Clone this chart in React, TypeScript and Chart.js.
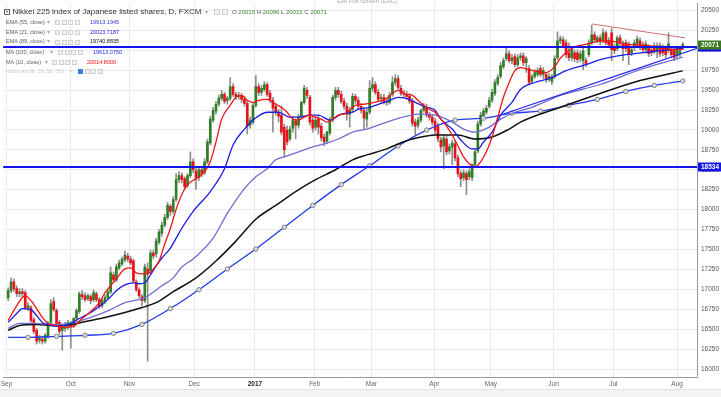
import React, { useEffect, useRef } from 'react';
import { Chart, registerables } from 'chart.js';

Chart.register(...registerables);

const FONT = "'Liberation Sans', Arial, Helvetica, sans-serif";

// Daily candles [open, high, low, close]
const sep2016: number[][] = [
  [16896, 17020, 16858, 16983], [16983, 17144, 16958, 17095], [17095, 17132, 16970, 17008], [17008, 17045, 16908, 16945],
  [16945, 17008, 16908, 16970], [16970, 17008, 16896, 16945], [16958, 16983, 16746, 16771], [16771, 16833, 16734, 16796],
  [16771, 16796, 16585, 16610], [16622, 16647, 16448, 16473], [16485, 16510, 16311, 16348], [16361, 16423, 16323, 16385],
  [16373, 16410, 16311, 16348], [16348, 16448, 16323, 16423], [16410, 16597, 16385, 16572], [16585, 16871, 16560, 16821],
  [16846, 16896, 16722, 16746], [16734, 16759, 16547, 16572], [16585, 16610, 16435, 16473], [16485, 16535, 16236, 16522],
  [16510, 16585, 16473, 16547], [16535, 16610, 16497, 16585],
];
const oct2016: number[][] = [
  [16560, 16597, 16261, 16535], [16547, 16647, 16522, 16634], [16634, 16759, 16610, 16734], [16722, 16970, 16697, 16945],
  [16933, 16983, 16871, 16908], [16921, 16958, 16846, 16871], [16883, 16945, 16858, 16921], [16908, 16933, 16821, 16858],
  [16871, 16995, 16846, 16958], [16945, 16970, 16846, 16871], [16871, 16896, 16759, 16784], [16796, 16883, 16771, 16858],
  [16846, 16933, 16821, 16896], [16896, 16995, 16871, 16970], [16970, 17281, 16945, 17206], [17182, 17219, 17082, 17119],
  [17119, 17318, 17095, 17281], [17269, 17368, 17244, 17331], [17318, 17406, 17294, 17381], [17368, 17480, 17343, 17431],
  [17418, 17455, 17343, 17381],
];
const nov2016: number[][] = [
  [17381, 17418, 17306, 17331], [17356, 17381, 17082, 17107], [17095, 17119, 16970, 16995], [16995, 17020, 16896, 16921],
  [16908, 16933, 16796, 16858], [16858, 17318, 16833, 17281], [17256, 17331, 16100, 17206], [17231, 17493, 17206, 17455],
  [17455, 17493, 17381, 17418], [17443, 17642, 17406, 17605], [17592, 17754, 17568, 17717], [17705, 17841, 17667, 17804],
  [17804, 17940, 17779, 17903], [17903, 18090, 17878, 18053], [18040, 18065, 17928, 17978], [17978, 18165, 17953, 18127],
  [18127, 18451, 18102, 18376], [18376, 18476, 18339, 18426], [18426, 18463, 18339, 18376], [18389, 18413, 18252, 18289],
  [18301, 18451, 18277, 18426], [18426, 18724, 18401, 18600], [18600, 18637, 18463, 18500],
];
const dec2016: number[][] = [
  [18488, 18525, 18252, 18401], [18401, 18538, 18364, 18500], [18500, 18538, 18413, 18451], [18463, 18637, 18438, 18600],
  [18600, 18886, 18575, 18849], [18836, 19172, 18812, 19135], [19123, 19284, 19098, 19247], [19235, 19359, 19197, 19322],
  [19322, 19434, 19297, 19396], [19396, 19496, 19371, 19446], [19446, 19471, 19334, 19359], [19371, 19421, 19322, 19396],
  [19396, 19657, 19371, 19545], [19545, 19583, 19421, 19446], [19446, 19471, 19384, 19421], [19421, 19471, 19384, 19434],
  [19434, 19458, 19346, 19384], [19384, 19421, 19297, 19334], [19334, 19359, 18948, 19048], [19060, 19160, 19023, 19123],
  [19098, 19346, 19073, 19309],
];
const jan2017: number[][] = [
  [19309, 19682, 19284, 19545], [19545, 19583, 19434, 19471], [19471, 19558, 19434, 19521], [19508, 19608, 19483, 19570],
  [19570, 19595, 19421, 19446], [19458, 19496, 19346, 19384], [19371, 19409, 18973, 19272], [19297, 19334, 19185, 19222],
  [19222, 19260, 19098, 19172], [19185, 19297, 18936, 18973], [19035, 19073, 18662, 18749], [18998, 19048, 18812, 18849],
  [18886, 19048, 18861, 19011], [19023, 19172, 18973, 19123], [19110, 19135, 18886, 19060], [19060, 19197, 19023, 19160],
  [19172, 19359, 19147, 19346], [19346, 19558, 19322, 19521], [19496, 19533, 19396, 19434], [19409, 19434, 19060, 19098],
  [19123, 19172, 18973, 19023],
];
const feb2017: number[][] = [
  [19035, 19160, 18998, 19123], [19135, 19185, 18948, 19035], [19048, 19085, 18861, 18899], [18911, 18948, 18799, 18849],
  [18861, 18986, 18824, 18973], [18961, 19160, 18936, 19123], [19123, 19434, 19098, 19409], [19409, 19533, 19371, 19496],
  [19496, 19533, 19409, 19446], [19446, 19483, 19334, 19359], [19359, 19396, 19260, 19297], [19297, 19334, 19123, 19197],
  [19197, 19284, 19035, 19247], [19260, 19458, 19222, 19421], [19421, 19446, 19334, 19371], [19371, 19409, 19260, 19297],
  [19297, 19334, 19210, 19247], [19247, 19284, 19011, 19147], [19135, 19260, 19035, 19222], [19222, 19620, 19197, 19521],
];
const mar2017: number[][] = [
  [19521, 19657, 19483, 19570], [19570, 19608, 19446, 19471], [19471, 19508, 19359, 19384], [19396, 19446, 19346, 19409],
  [19409, 19446, 19322, 19346], [19346, 19396, 19309, 19359], [19346, 19471, 19322, 19434], [19446, 19670, 19421, 19595],
  [19595, 19695, 19558, 19645], [19645, 19682, 19508, 19533], [19521, 19558, 19434, 19458], [19458, 19496, 19409, 19446],
  [19446, 19483, 19384, 19421], [19421, 19458, 19334, 19359], [19359, 19396, 19048, 19085], [19098, 19135, 18936, 19048],
  [19060, 19160, 19023, 19123], [19123, 19260, 19098, 19247], [19247, 19334, 19222, 19297], [19284, 19321, 19160, 19185],
  [19185, 19222, 19123, 19160], [19160, 19197, 19060, 19098],
];
const apr2017: number[][] = [
  [19110, 19147, 18948, 18998], [19048, 19085, 18849, 18886], [18874, 18911, 18724, 18787], [18799, 18936, 18513, 18899],
  [18886, 18923, 18687, 18724], [18737, 18824, 18700, 18787], [18787, 18874, 18563, 18836], [18824, 18861, 18612, 18650],
  [18650, 18687, 18413, 18451], [18451, 18488, 18289, 18389], [18401, 18500, 18364, 18463], [18451, 18488, 18189, 18376],
  [18413, 18513, 18376, 18476], [18401, 18575, 18364, 18563], [18563, 18762, 18538, 18724], [18737, 19110, 18712, 19073],
  [19073, 19222, 19048, 19185], [19172, 19272, 19147, 19235], [19222, 19309, 19197, 19272], [19297, 19409, 19272, 19371],
];
const may2017: number[][] = [
  [19371, 19508, 19346, 19471], [19458, 19633, 19434, 19595], [19583, 19695, 19558, 19657], [19670, 19844, 19645, 19807],
  [19794, 19906, 19769, 19869], [19894, 20031, 19869, 19956], [19956, 19993, 19844, 19869], [19869, 19944, 19832, 19906],
  [19919, 19956, 19794, 19819], [19819, 19944, 19794, 19906], [19906, 19968, 19869, 19931], [19931, 19968, 19807, 19844],
  [19844, 19919, 19720, 19894], [19769, 19807, 19570, 19595], [19608, 19695, 19583, 19670], [19670, 19757, 19645, 19720],
  [19695, 19782, 19670, 19744], [19769, 19807, 19670, 19695], [19695, 19782, 19645, 19744], [19695, 19720, 19595, 19633],
  [19633, 19707, 19608, 19670], [19608, 19695, 19570, 19670],
];
const jun2017: number[][] = [
  [19670, 19931, 19645, 19894], [19906, 20230, 19881, 20118], [20118, 20180, 20080, 20143], [20130, 20167, 20031, 20056],
  [20093, 20130, 19906, 19944], [19968, 20093, 19869, 19906], [19906, 20043, 19869, 20006], [19968, 20006, 19856, 19894],
  [19968, 20006, 19844, 19881], [19894, 19993, 19856, 19956], [19869, 20031, 19757, 19993], [19869, 19906, 19794, 19819],
  [19944, 20130, 19919, 20093], [20093, 20317, 20068, 20192], [20192, 20230, 20093, 20130], [20118, 20180, 20093, 20155],
  [20155, 20192, 20068, 20105], [20118, 20267, 20093, 20217], [20217, 20242, 20068, 20093], [20118, 20155, 20031, 20068],
  [20217, 20279, 19869, 20006],
];
const jul2017: number[][] = [
  [20043, 20080, 19956, 19993], [20018, 20180, 19993, 20155], [20155, 20192, 20056, 20093], [20080, 20118, 19869, 20018],
  [20093, 20130, 19981, 20018], [20068, 20105, 19819, 19944], [19968, 20043, 19931, 20006], [20031, 20130, 19993, 20093],
  [20080, 20180, 20056, 20143], [20118, 20155, 20006, 20043], [20068, 20105, 19968, 20006], [20006, 20118, 19981, 20080],
  [20031, 20068, 19919, 19956], [20006, 20043, 19931, 19968], [20056, 20093, 19956, 19993], [19993, 20093, 19906, 20056],
  [20056, 20093, 19919, 19956], [20031, 20068, 19931, 19968], [20018, 20056, 19906, 19944], [19993, 20217, 19968, 20080],
  [20006, 20043, 19906, 19944], [19993, 20031, 19869, 19906],
];
const aug2017: number[][] = [
  [19931, 20043, 19894, 20006], [19956, 20031, 19919, 19993], [20015, 20096, 20015, 20071],
];

const ohlc = [
  ...sep2016, ...oct2016, ...nov2016, ...dec2016, ...jan2017, ...feb2017,
  ...mar2017, ...apr2017, ...may2017, ...jun2017, ...jul2017, ...aug2017,
];

// Indicator lines: [bar index, value]
const ma10Pts: number[][] = [
  [0, 16610], [3, 16796], [6, 16921], [8, 16858], [10, 16759], [12, 16647], [14, 16572], [17, 16547], [20, 16522],
  [23, 16535], [26, 16634], [29, 16721], [32, 16833], [34, 16958], [36, 17045], [38, 17132], [41, 17256], [43, 17269],
  [45, 17206], [47, 17194], [49, 17194], [51, 17256], [53, 17356], [55, 17568], [57, 17766], [59, 18003], [61, 18189],
  [63, 18314], [66, 18389], [69, 18476], [71, 18600], [73, 18849], [75, 19135], [78, 19309], [80, 19409], [82, 19434],
  [84, 19371], [86, 19346], [88, 19371], [91, 19384], [94, 19322], [96, 19284], [98, 19222], [100, 19135], [102, 19123],
  [104, 19160], [106, 19185], [108, 19160], [110, 19135], [112, 19098], [114, 19135], [116, 19185], [118, 19197],
  [120, 19247], [122, 19309], [125, 19322], [127, 19334], [130, 19359], [133, 19396], [135, 19458], [137, 19496],
  [140, 19446], [142, 19434], [144, 19371], [146, 19309], [148, 19260], [150, 19222], [152, 19135], [154, 19048],
  [156, 18936], [158, 18799], [160, 18662], [162, 18575], [164, 18538], [166, 18600], [168, 18725], [170, 18911],
  [172, 19160], [174, 19409], [176, 19595], [178, 19745], [180, 19782], [183, 19757], [186, 19732], [189, 19720],
  [192, 19794], [194, 19900], [196, 19968], [199, 20043], [202, 20068], [205, 20093], [208, 20118], [211, 20118],
  [215, 20093], [220, 20068], [225, 20056], [230, 20025], [234, 20006], [237, 20014.8],
];
const ema21Pts: number[][] = [
  [0, 16585], [3, 16697], [5, 16759], [8, 16746], [10, 16672], [12, 16585], [15, 16547], [17, 16535], [20, 16547],
  [22, 16572], [25, 16634], [29, 16709], [31, 16759], [35, 16871], [38, 16983], [41, 17057], [44, 17082], [46, 17070],
  [48, 17082], [50, 17182], [52, 17294], [54, 17393], [57, 17518], [59, 17642], [61, 17766], [65, 17978], [71, 18227],
  [76, 18513], [79, 18812], [83, 19011], [86, 19123], [91, 19222], [95, 19222], [99, 19160], [102, 19160], [106, 19185],
  [109, 19185], [113, 19123], [117, 19197], [121, 19222], [123, 19260], [127, 19284], [130, 19322], [134, 19371],
  [137, 19409], [141, 19384], [143, 19346], [147, 19284], [150, 19247], [152, 19135], [156, 19011], [159, 18874],
  [163, 18762], [165, 18762], [167, 18849], [170, 18973], [173, 19185], [177, 19346], [180, 19508], [185, 19595],
  [191, 19657], [196, 19744], [203, 19819], [208, 19881], [217, 19944], [226, 19981], [237, 20023.7],
];
const ema55Pts: number[][] = [
  [0, 16510], [4, 16572], [9, 16572], [16, 16560], [22, 16572], [29, 16647], [36, 16746], [41, 16833], [48, 16896],
  [54, 17045], [58, 17144], [61, 17281], [65, 17381], [72, 17642], [77, 17953], [83, 18264], [87, 18413], [91, 18513],
  [94, 18625], [97, 18662], [102, 18724], [107, 18787], [111, 18824], [116, 18886], [121, 18973], [126, 19011],
  [133, 19098], [140, 19172], [144, 19197], [150, 19185], [156, 19098], [160, 19011], [164, 18973], [169, 19035],
  [173, 19135], [178, 19222], [184, 19284], [194, 19434], [208, 19570], [222, 19757], [237, 19913.2],
];
const ema89Pts: number[][] = [
  [0, 16485], [4, 16547], [10, 16560], [16, 16547], [22, 16560], [29, 16610], [34, 16647], [41, 16709], [47, 16771],
  [52, 16833], [58, 16970], [66, 17144], [73, 17356], [80, 17605], [87, 17880], [94, 18053], [101, 18227], [108, 18376],
  [115, 18500], [121, 18625], [126, 18687], [133, 18762], [137, 18824], [142, 18886], [147, 18923], [150, 18936],
  [158, 18936], [164, 18886], [170, 18911], [176, 19011], [180, 19098], [194, 19284], [210, 19483], [222, 19620],
  [237, 19740.9],
];
const ma100Pts: number[][] = [
  [0, 16398], [7, 16398], [17, 16410], [27, 16423], [37, 16448], [47, 16560], [57, 16759], [67, 16995], [77, 17256],
  [87, 17505], [97, 17779], [107, 18053], [117, 18314], [127, 18550], [137, 18799], [147, 18998], [157, 19123],
  [167, 19147], [177, 19210], [187, 19235], [197, 19309], [207, 19384], [217, 19483], [227, 19558], [237, 19613.1],
];

// Drawn levels and trend lines
const levelLines = [20040, 18534];
const blueTrend: number[][] = [[174, 19200], [243, 20035]];
const redTrend: number[][] = [[205.2, 20329], [237.8, 20155]];

// Axes
const monthTickIdx = [-0.6, 22, 42.6, 65.4, 86.7, 107.7, 127.6, 149.7, 169.6, 191.6, 212.6, 235];
const monthLabels = ['Sep', 'Oct', 'Nov', 'Dec', '2017', 'Feb', 'Mar', 'Apr', 'May', 'Jun', 'Jul', 'Aug'];
const yTickValues = [16000, 16250, 16500, 16750, 17000, 17250, 17500, 17750, 18000, 18250, 18500, 18750,
  19000, 19250, 19500, 19750, 20000, 20250, 20500];

// Legend texts
const titleText = 'Nikkei 225 index of Japanese listed shares, D, FXCM';
const ohlcLabels = ['O', 'H', 'L', 'C'];
const ohlcValues = ['20015', '20096', '20015', '20071'];
const legendNames = ['EMA (55, close)', 'EMA (21, close)', 'EMA (89, close)', 'MA (100, close)', 'MA (10, close)', 'Ichimoku (9, 26, 52, 26)'];
const legendValues = ['19913.1945', '20023.7187', '19740.8835', '19613.0750', '20014.8000', ''];

const priceTags = [
  { value: 20040, bg: '#1414e6', text: '' },
  { value: 20060, bg: '#3a7a20', text: '20071' },
  { value: 18534, bg: '#1414e6', text: '18534' },
];

const toXY = (pts: number[][]) => pts.map((p) => ({ x: p[0], y: p[1] }));

const priceTagPlugin = {
  id: 'priceTags',
  afterDraw(chart: any) {
    const ys = chart.scales.y;
    const ctx = chart.ctx;
    const left = chart.chartArea.right + 1;
    ctx.save();
    priceTags.forEach((t) => {
      const py = Math.round(ys.getPixelForValue(t.value));
      ctx.fillStyle = t.bg;
      ctx.fillRect(left, py - 4.5, 24, 9);
      if (t.text) {
        ctx.fillStyle = '#ffffff';
        ctx.font = `bold 6.5px ${FONT}`;
        ctx.textBaseline = 'middle';
        ctx.textAlign = 'left';
        ctx.fillText(t.text, left + 3, py + 0.5);
      }
    });
    ctx.restore();
  },
};

const lineDs = (pts: number[][], color: string, width: number, extra: any = {}) => ({
  type: 'line',
  data: toXY(pts),
  borderColor: color,
  borderWidth: width,
  pointRadius: 0,
  pointHoverRadius: 0,
  cubicInterpolationMode: 'monotone',
  fill: false,
  order: 2,
  ...extra,
});

const Box = ({ left, top, size = 5, bg = '#f3f3f3', border = '#cfcfcf' }: any) => (
  <div style={{ position: 'absolute', left, top, width: size, height: size, boxSizing: 'border-box', border: `1px solid ${border}`, background: bg }} />
);

function Legend() {
  const rowY = [22.7, 32.3, 42, 52.7, 62.3, 71.7];
  const arrowX = [47, 47, 47, 50, 45, 70];
  const iconX = [55, 55, 55, 58, 52, 78];
  const valueX = [90, 90, 90, 93, 87, 0];
  const valueColor = ['#3535cc', '#1e1ee8', '#111111', '#2727e6', '#ee1010', ''];
  const fs = 5.5;
  return (
    <div style={{ position: 'absolute', left: 0, top: 0, width: 400, height: 80, pointerEvents: 'none', fontFamily: FONT }}>
      <div style={{ position: 'absolute', left: 4, top: 8.5, width: 6, height: 6, boxSizing: 'border-box', border: '1px solid #666' }}>
        <div style={{ position: 'absolute', left: 1, top: 1.5, width: 2, height: 1, background: '#666' }} />
      </div>
      <div style={{ position: 'absolute', left: 12.5, top: 8, fontSize: 8, lineHeight: '8px', color: '#333', whiteSpace: 'nowrap' }}>{titleText}</div>
      <div style={{ position: 'absolute', left: 205, top: 9, fontSize: 6, lineHeight: '6px', color: '#aaa' }}>▾</div>
      <Box left={214} top={9} size={6} />
      <Box left={222} top={9} size={6} />
      <div style={{ position: 'absolute', left: 232, top: 9, fontSize: 6, lineHeight: '6px', whiteSpace: 'nowrap' }}>
        {ohlcLabels.map((l, i) => (
          <span key={l}>
            <span style={{ color: '#555' }}>{l}</span>
            <span style={{ color: '#3a8a2a' }}> {ohlcValues[i]} </span>
          </span>
        ))}
      </div>
      {legendNames.map((name, i) => {
        const faded = i === 5;
        const top = rowY[i] - fs / 2;
        return (
          <div key={name}>
            <div style={{ position: 'absolute', left: 6, top, fontSize: fs, lineHeight: `${fs}px`, color: faded ? '#cdcdcd' : '#606060', whiteSpace: 'nowrap' }}>{name}</div>
            <div style={{ position: 'absolute', left: arrowX[i], top, fontSize: fs, lineHeight: `${fs}px`, color: faded ? '#d5d5d5' : '#aaa' }}>▾</div>
            {[0, 1, 2, 3].map((k) => (
              <Box key={k} left={iconX[i] + k * 6.5} top={rowY[i] - 2.5} size={5}
                bg={faded && k === 0 ? '#3b7de0' : '#f3f3f3'} border={faded && k === 0 ? '#3b7de0' : '#d0d0d0'} />
            ))}
            {legendValues[i] ? (
              <div style={{ position: 'absolute', left: valueX[i], top, fontSize: fs, lineHeight: `${fs}px`, color: valueColor[i], whiteSpace: 'nowrap' }}>{legendValues[i]}</div>
            ) : null}
          </div>
        );
      })}
    </div>
  );
}

export default function App() {
  const canvasRef = useRef<HTMLCanvasElement | null>(null);

  useEffect(() => {
    document.body.style.margin = '0';
    const canvas = canvasRef.current;
    if (!canvas) return;
    const bodyColors = ohlc.map((r) => (r[3] >= r[0] ? '#2f7f24' : '#ec1118'));

    const datasets: any[] = [
      ...levelLines.map((v) => ({
        type: 'line',
        data: [{ x: -3, y: v }, { x: 245, y: v }],
        borderColor: '#1414e6',
        borderWidth: 2,
        pointRadius: 0,
        fill: false,
        order: 0,
      })),
      lineDs(blueTrend, '#2a2aee', 1.2, { order: 1 }),
      lineDs(redTrend, 'rgba(190,90,90,0.85)', 1, { order: 1 }),
      lineDs(ma10Pts, '#f01515', 1.3),
      lineDs(ema21Pts, '#1c1ce8', 1.3),
      lineDs(ema55Pts, '#6d6dd4', 1.3),
      lineDs(ema89Pts, '#111111', 1.5),
      lineDs(ma100Pts, '#2438f0', 1.3, {
        pointRadius: (c: any) => (c.raw && (c.raw.x - 7) % 10 === 0 ? 2.2 : 0),
        pointBackgroundColor: '#dcdcdc',
        pointBorderColor: '#808080',
        pointBorderWidth: 1,
      }),
      {
        type: 'bar',
        data: ohlc.map((r, i) => ({ x: i, y: [r[0], r[3]] })),
        backgroundColor: bodyColors,
        borderWidth: 0,
        barThickness: 2,
        minBarLength: 1,
        grouped: false,
        order: 3,
      },
      {
        type: 'bar',
        data: ohlc.map((r, i) => ({ x: i, y: [r[2], r[1]] })),
        backgroundColor: '#8e8e8e',
        borderWidth: 0,
        barThickness: 1,
        grouped: false,
        order: 4,
      },
    ];

    const chart = new Chart(canvas, {
      type: 'bar',
      data: { datasets },
      options: {
        animation: false,
        responsive: false,
        maintainAspectRatio: false,
        events: [],
        layout: { padding: 0 },
        plugins: { legend: { display: false }, tooltip: { enabled: false } },
        scales: {
          x: {
            type: 'linear',
            min: -1.75,
            max: 242,
            bounds: 'data',
            offset: false,
            grid: { color: '#ebebeb', drawTicks: false, offset: false },
            border: { color: '#9a9a9a' },
            afterBuildTicks: (s: any) => { s.ticks = monthTickIdx.map((v) => ({ value: v })); },
            afterFit: (s: any) => { s.height = 12; s.paddingLeft = 0; s.paddingRight = 0; },
            ticks: {
              autoSkip: false,
              maxRotation: 0,
              padding: 3,
              callback: (_v: any, i: number) => monthLabels[i],
              font: (c: any) => ({ family: FONT, size: 6.5, weight: c.index === 4 ? 'bold' : 'normal' }),
              color: (c: any) => (c.index === 4 ? '#222' : '#666'),
            },
          },
          y: {
            type: 'linear',
            position: 'right',
            min: 15900,
            max: 20590,
            bounds: 'data',
            grid: { color: '#ebebeb', drawTicks: false },
            border: { color: '#9a9a9a' },
            afterBuildTicks: (s: any) => { s.ticks = yTickValues.map((v) => ({ value: v })); },
            afterFit: (s: any) => { s.width = 24; s.paddingTop = 0; s.paddingBottom = 0; },
            ticks: {
              padding: 4,
              callback: (v: any) => String(v),
              font: { family: FONT, size: 6.5 },
              color: '#555',
            },
          },
        },
      } as any,
      plugins: [priceTagPlugin],
    } as any);
    return () => chart.destroy();
  }, []);

  return (
    <div style={{ position: 'relative', width: 721, height: 397, overflow: 'hidden', background: '#fff', fontFamily: FONT }}>
      <canvas ref={canvasRef} width={721} height={389} style={{ position: 'absolute', left: 0, top: 0, display: 'block' }} />
      <Legend />
      <div style={{ position: 'absolute', left: 337, top: -2, fontSize: 6, lineHeight: '7px', color: '#a8a8a8', whiteSpace: 'nowrap' }}>Exit Full Screen (ESC)</div>
      <div style={{ position: 'absolute', left: 0, top: 389, width: 721, height: 8, background: '#f3f3f3', borderTop: '1px solid #e2e2e2', boxSizing: 'border-box' }} />
    </div>
  );
}
